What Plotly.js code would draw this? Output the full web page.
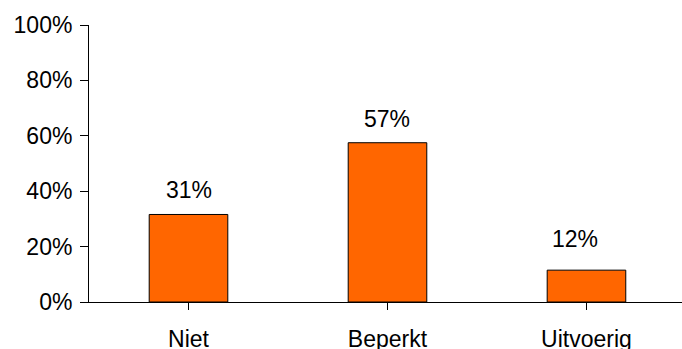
<!DOCTYPE html>
<html>
<head>
<meta charset="utf-8">
<script src="https://cdn.plot.ly/plotly-3.0.1.min.js"></script>
<style>html,body{margin:0;padding:0;background:#fff;}#chart{width:682px;height:349px;}</style>
</head>
<body>
<div id="chart"></div>
<script>
const categories = ["Niet", "Beperkt", "Uitvoerig"];
const values = [31.6, 57.5, 11.5];
const valueLabels = ["31%", "57%", "12%"];
const yTickVals = [0, 20, 40, 60, 80, 100];
const yTickText = ["0%", "20%", "40%", "60%", "80%", "100%"];

const FONT = "Liberation Sans, Arial, sans-serif";
const FS = 23;
const labelShiftX = [0, 0, -11];
const labelShiftY = [9, 9, 16];

const annotations = categories.map((c, i) => ({
  x: i, y: values[i], xref: "x", yref: "y",
  text: valueLabels[i], showarrow: false,
  yanchor: "bottom", xanchor: "center",
  xshift: labelShiftX[i], yshift: labelShiftY[i],
  font: {family: FONT, size: FS, color: "#000"}
}));

const trace = {
  type: "bar",
  x: [0, 1, 2],
  y: values,
  width: 0.395,
  marker: {color: "#FF6600", line: {color: "#000", width: 1}},
  hoverinfo: "none"
};

const layout = {
  width: 682, height: 349,
  margin: {l: 89, r: 0, t: 25, b: 47},
  paper_bgcolor: "#fff", plot_bgcolor: "#fff",
  showlegend: false,
  font: {family: FONT, size: FS, color: "#000"},
  xaxis: {
    range: [-0.5, 2.48],
    tickmode: "array", tickvals: [0, 1, 2], ticktext: categories,
    showline: true, linecolor: "#000", linewidth: 1,
    ticks: "outside", ticklen: 7, tickcolor: "#000", tickwidth: 1,
    tickson: "boundaries",
    showgrid: false, zeroline: false,
    ticklabelstandoff: 9,
    tickfont: {family: FONT, size: FS, color: "#000"}
  },
  yaxis: {
    range: [0, 100],
    tickmode: "array", tickvals: yTickVals, ticktext: yTickText,
    showline: true, linecolor: "#000", linewidth: 1,
    ticks: "outside", ticklen: 8, tickcolor: "#000", tickwidth: 1,
    showgrid: false, zeroline: false,
    ticklabelstandoff: 3,
    tickfont: {family: FONT, size: FS, color: "#000"}
  },
  annotations: annotations
};

Plotly.newPlot("chart", [trace], layout, {staticPlot: true, displayModeBar: false});
</script>
</body>
</html>
